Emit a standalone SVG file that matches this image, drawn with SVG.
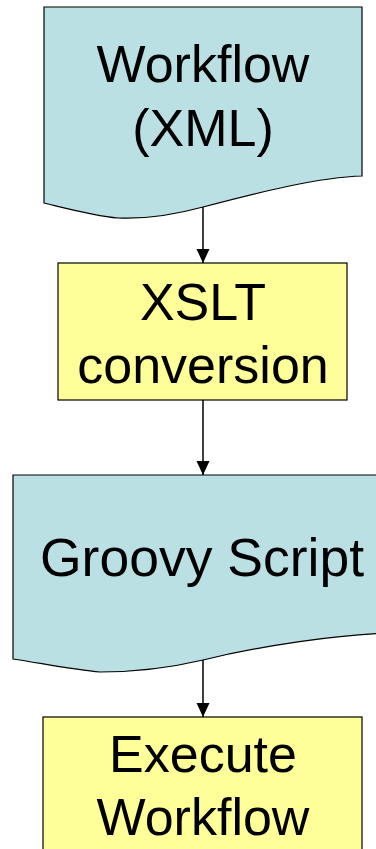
<svg xmlns="http://www.w3.org/2000/svg" width="376" height="849" viewBox="0 0 376 849">
  <style>
    .doc { fill: #BBE0E3; stroke: #000; stroke-width: 1.2; }
    .proc { fill: #FFFF99; stroke: #000; stroke-width: 1.2; }
    .label { font-family: "Liberation Sans", Arial, sans-serif; font-size: 52px; fill: #000; text-anchor: middle; }
    .wide { font-size: 53.5px; }
    .edge { stroke: #000; stroke-width: 1.5; fill: none; marker-end: url(#arrow); }
  </style>
  <defs>
    <marker id="arrow" markerWidth="14" markerHeight="14" refX="14" refY="7" orient="auto" markerUnits="userSpaceOnUse">
      <path d="M0,0.5 L14,7 L0,13.5 Z" fill="#000"/>
    </marker>
  </defs>

  <g id="connectors">
    <line class="edge" x1="203" y1="207" x2="203" y2="263"/>
    <line class="edge" x1="203" y1="400" x2="203" y2="475"/>
    <line class="edge" x1="203" y1="660" x2="203" y2="717"/>
  </g>

  <g id="workflow-xml">
    <path class="doc" d="M44,7 H362 V176 C320,177 260,192 203,207 C170,216 140,219 118,218 C95,216 65,208 44,203 Z"/>
    <text class="label" x="203" y="82">Workflow</text>
    <text class="label" x="203" y="146">(XML)</text>
  </g>

  <g id="xslt-conversion">
    <rect class="proc" x="58" y="263" width="289" height="137"/>
    <text class="label" x="203" y="320">XSLT</text>
    <text class="label" x="203" y="383">conversion</text>
  </g>

  <g id="groovy-script">
    <path class="doc" d="M13,475 H393 V633 C340,634 260,646 203,660 C165,669 130,672 100,672 C75,670 40,663 13,659 Z"/>
    <text class="label wide" x="202" y="576">Groovy Script</text>
  </g>

  <g id="execute-workflow">
    <rect class="proc" x="43" y="717" width="319" height="150"/>
    <text class="label" x="203" y="772">Execute</text>
    <text class="label" x="203" y="835">Workflow</text>
  </g>
</svg>
